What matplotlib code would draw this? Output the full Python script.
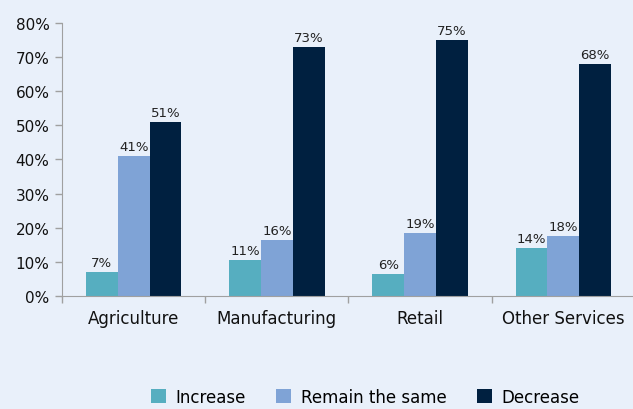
import numpy as np
import matplotlib.pyplot as plt
from matplotlib.ticker import PercentFormatter

sectors = ['Agriculture', 'Manufacturing', 'Retail', 'Other Services']
increase = [0.07, 0.106, 0.064, 0.14]
remain = [0.41, 0.164, 0.186, 0.177]
decrease = [0.51, 0.73, 0.75, 0.68]
series_names = ['Increase', 'Remain the same', 'Decrease']
colors = ['#56AEC0', '#7FA3D6', '#002040']
bg = '#E9F0FA'

plt.rcParams['font.family'] = ['DejaVu Sans']

fig = plt.figure(figsize=(6.33, 4.10), dpi=100, facecolor=bg)
ax = fig.add_axes([0.098, 0.2756, 0.905, 0.666], facecolor=bg)

x = np.arange(len(sectors))
w = 0.222
for i, (vals, name, c) in enumerate(zip([increase, remain, decrease], series_names, colors)):
    bars = ax.bar(x + (i - 1) * w, vals, w, color=c, label=name, zorder=2)
    for b, v in zip(bars, vals):
        ax.text(b.get_x() + b.get_width() / 2, v + 0.008, f'{v:.0%}',
                ha='center', va='bottom', fontsize=9.5, color='#222222')

ax.set_xlim(-0.5, len(sectors) - 0.5)
ax.set_ylim(0, 0.8)
ax.set_yticks(np.arange(0, 0.81, 0.1))
ax.yaxis.set_major_formatter(PercentFormatter(1.0, decimals=0))
ax.tick_params(axis='y', labelsize=11, colors='#A0A0A0', labelcolor='#111111',
               length=5, width=1, pad=4)

# boundary ticks between categories, labels centered under each group
ax.set_xticks(np.arange(-0.5, len(sectors)), minor=False)
ax.set_xticklabels([])
ax.set_xticks(x, minor=True)
ax.set_xticklabels(sectors, minor=True)
ax.tick_params(axis='x', which='major', length=5, width=1, colors='#A0A0A0')
ax.tick_params(axis='x', which='minor', length=0, pad=9, labelsize=12, labelcolor='#111111')

for s in ['top', 'right']:
    ax.spines[s].set_visible(False)
for s in ['left', 'bottom']:
    ax.spines[s].set_color('#A0A0A0')

fig.legend(loc='center', bbox_to_anchor=(0.577, 0.03), ncol=3, frameon=False,
           fontsize=12, handlelength=0.9, handleheight=0.9, handletextpad=0.6,
           columnspacing=1.8)

fig.savefig('out.png', dpi=100, facecolor=bg)
